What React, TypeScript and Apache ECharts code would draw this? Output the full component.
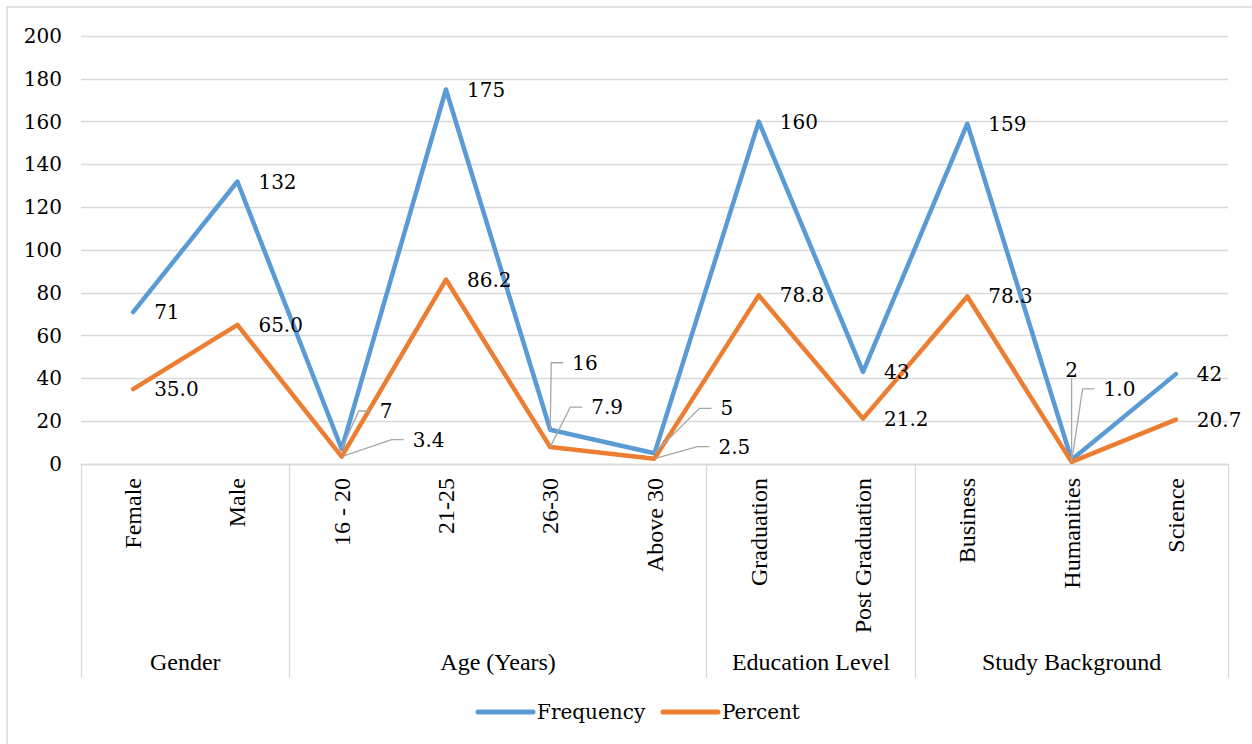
import React, { useEffect, useRef } from "react";
import * as echarts from "echarts";

const categories = ["Female", "Male", "16 - 20", "21-25", "26-30", "Above 30", "Graduation", "Post Graduation", "Business", "Humanities", "Science"];
const frequency = [71, 132, 7, 175, 16, 5, 160, 43, 159, 2, 42];
const percent = [35.0, 65.0, 3.4, 86.2, 7.9, 2.5, 78.8, 21.2, 78.3, 1.0, 20.7];
const groups = ["Gender", "Age (Years)", "Education Level", "Study Background"];
const groupSizes = [2, 4, 2, 3];
const yMin = 0;
const yMax = 200;
const yStep = 20;
const seriesNames = ["Frequency", "Percent"];
const seriesColors = ["#5B9BD5", "#ED7D31"];

// placement of the labels that were moved away from their points: [dx, dy, centred above]
const freqMoved: Record<number, any[]> = { 2: [38, -38], 4: [22, -67], 5: [66, -45], 9: [0, -90, true] };
const pctMoved: Record<number, any[]> = { 2: [71, -17], 4: [41, -40], 5: [64, -12], 9: [32, -73] };

const FONT = "Liberation Serif";
const FONT2 = "DejaVu Serif";
const GRID = "#d9d9d9";

function boundaries(): number[] {
  const b = [0];
  groupSizes.forEach((s) => b.push(b[b.length - 1] + s));
  return b;
}
function centers(): number[] {
  const b = boundaries();
  return groups.map((_, i) => (b[i] + b[i + 1]) / 2);
}
function yTicks(): number[] {
  const t: number[] = [];
  for (let v = yMin; v <= yMax; v += yStep) t.push(v);
  return t;
}

function lineSeries(name: string, vals: number[], color: string) {
  return {
    name,
    type: "line",
    data: vals,
    symbol: "none",
    lineStyle: { color, width: 4.5, cap: "round", join: "round" },
    itemStyle: { color },
    label: { show: false },
    emphasis: { disabled: true },
  };
}

function textEl(text: string, x: number, y: number, align: string) {
  return {
    type: "text",
    x,
    y,
    silent: true,
    z: 10,
    style: { text, x: 0, y: 0, fontFamily: FONT2, fontSize: 20, fill: "#000", align, verticalAlign: "middle" },
  };
}

export default function App() {
  const ref = useRef<HTMLDivElement>(null);
  useEffect(() => {
    if (!ref.current) return;
    const chart = echarts.init(ref.current, null, { renderer: "svg" });
    const ctr = centers();
    const border = {
      type: "rect",
      shape: { x: 7, y: 7, width: 1270, height: 770 },
      style: { fill: "none", stroke: GRID, lineWidth: 1.5 },
      silent: true,
    };
    chart.setOption({
      animation: false,
      backgroundColor: "#fff",
      grid: { left: 81, right: 24, top: 36, bottom: 280, containLabel: false },
      graphic: [border],
      xAxis: [
        {
          type: "category",
          data: categories,
          boundaryGap: true,
          axisLine: { show: true, lineStyle: { color: GRID, width: 1.3 } },
          axisTick: { show: false },
          axisLabel: { interval: 0, rotate: 90, margin: 14, fontFamily: FONT, fontSize: 24, color: "#000" },
          splitLine: { show: false },
        },
        {
          type: "value",
          min: 0,
          max: categories.length,
          position: "bottom",
          axisLine: { show: false },
          splitLine: { show: false },
          axisTick: { show: true, customValues: boundaries(), length: 214, lineStyle: { color: GRID, width: 1.3 } },
          axisLabel: {
            show: true,
            customValues: ctr,
            margin: 186,
            fontFamily: FONT,
            fontSize: 24,
            color: "#000",
            formatter: (v: number) => {
              const i = ctr.findIndex((c) => Math.abs(c - v) < 1e-6);
              return i >= 0 ? groups[i] : "";
            },
          },
        },
      ],
      yAxis: {
        type: "value",
        min: yMin,
        max: yMax,
        interval: yStep,
        axisLine: { show: false },
        axisTick: { show: false },
        axisLabel: { show: false },
        splitLine: { lineStyle: { color: GRID, width: 1.3 } },
      },
      series: [
        lineSeries(seriesNames[0], frequency, seriesColors[0]),
        lineSeries(seriesNames[1], percent, seriesColors[1]),
      ],
    });

    // texts placed through the chart's own scales
    const px = (i: number) => chart.convertToPixel({ xAxisIndex: 1 }, i) as number;
    const py = (v: number) => chart.convertToPixel({ yAxisIndex: 0 }, v) as number;
    const els: any[] = [border];
    const left = px(0);
    yTicks().forEach((v) => els.push(textEl(String(v), left - 19, py(v), "right")));

    const addLabels = (vals: number[], moved: Record<number, any[]>, digits: number) => {
      vals.forEach((v, i) => {
        const x = px(i + 0.5);
        const y = py(v);
        const txt = v.toFixed(digits);
        const m = moved[i];
        if (!m) {
          els.push(textEl(txt, x + 21, y, "left"));
          return;
        }
        const lx = x + m[0];
        const ly = y + m[1];
        const pts = m[2]
          ? [[x, y], [x, ly + 9]]
          : [[x, y], [lx - 21, ly], [lx - 9, ly]];
        els.push({
          type: "polyline",
          silent: true,
          z: 9,
          shape: { points: pts },
          style: { stroke: "#a6a6a6", lineWidth: 1.3, fill: "none" },
        });
        els.push(textEl(txt, lx, ly, m[2] ? "center" : "left"));
      });
    };
    addLabels(frequency, freqMoved, 0);
    addLabels(percent, pctMoved, 1);

    // legend
    const legendY = 712;
    let lx = 478;
    seriesNames.forEach((name, k) => {
      els.push({
        type: "line",
        silent: true,
        shape: { x1: lx, y1: legendY, x2: lx + 55, y2: legendY },
        style: { stroke: seriesColors[k], lineWidth: 5, lineCap: "round" },
      });
      els.push(textEl(name, lx + 59, legendY, "left"));
      lx += k === 0 ? 185 : 0;
    });

    chart.setOption({ graphic: els }, { replaceMerge: ["graphic"] });
    return () => chart.dispose();
  }, []);
  return <div ref={ref} style={{ position: "absolute", left: 0, top: 0, width: 1252, height: 744 }} />;
}
